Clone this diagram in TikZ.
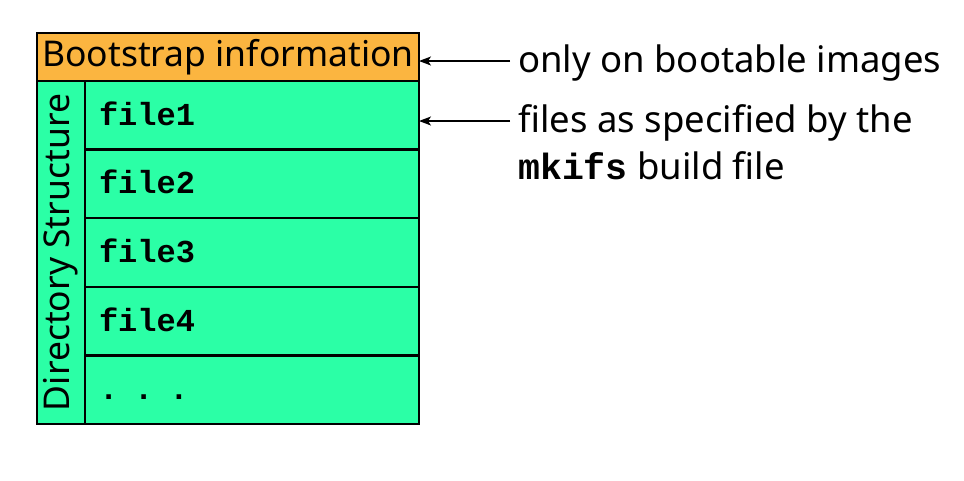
\documentclass[tikz,border=0pt]{standalone}
\usepackage{fontspec}
\setmainfont{Noto Sans}
\setmonofont{Liberation Mono}
\usetikzlibrary{positioning,arrows.meta}
\definecolor{bootorange}{RGB}{251,181,64}
\definecolor{dirgreen}{RGB}{43,255,166}
\def\fname#1{{\ttfamily\bfseries #1}}
\tikzset{
  box/.style={draw,line width=2.5pt,inner sep=0pt,outer sep=0pt},
  filecell/.style={box,fill=dirgreen,minimum height=68.6pt,text height=20pt,text depth=0pt,
    text width=306pt,inner xsep=14pt,align=left,font=\fontsize{32}{32}\selectfont},
  note/.style={anchor=west,inner sep=0pt,font=\fontsize{36.5}{36.5}\selectfont,
    text height=27pt,text depth=4pt},
  arr/.style={-{Stealth[length=12pt,width=9pt,inset=3pt]},line width=1.5pt,shorten <=8pt}
}
\begin{document}
\begin{tikzpicture}[x=1pt,y=-1pt]
\useasboundingbox (0,0) rectangle (964,480);
% image layout
\node[box,fill=bootorange,anchor=north west,minimum width=382pt,minimum height=48pt,
  font=\fontsize{35.5}{35.5}\selectfont] (boot) at (37,33) {Bootstrap information};
\node[box,fill=dirgreen,rotate=90,minimum width=343pt,minimum height=48pt,
  font=\fontsize{35.5}{35.5}\selectfont] (dir) at (61,252.5) {Directory Structure};
\node[filecell,anchor=north west] (f1) at (85,81) {\fname{file1}};
\node[filecell,below=0pt of f1] (f2) {\fname{file2}};
\node[filecell,below=0pt of f2] (f3) {\fname{file3}};
\node[filecell,below=0pt of f3] (f4) {\fname{file4}};
\node[filecell,below=0pt of f4] (f5) {\fname{. . .}};
% notes
\node[note] (bootnote) at (518,61) {only on bootable images};
\node[note] (filesnote) at (518,121) {files as specified by the};
\node[note,below=16pt of filesnote.south west,anchor=north west] (mkifsnote)
  {\fname{mkifs} build file};
\draw[arr] (bootnote.west) -- (boot.east |- bootnote.west);
\draw[arr] (filesnote.west) -- (f1.east |- filesnote.west);
\end{tikzpicture}
\end{document}
